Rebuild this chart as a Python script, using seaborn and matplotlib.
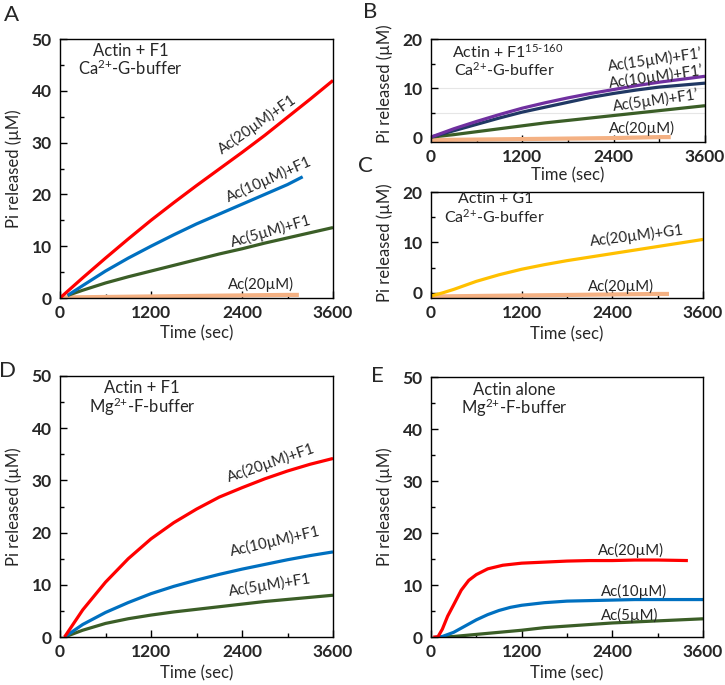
import matplotlib
matplotlib.use("Agg")
from matplotlib import pyplot as plt
from matplotlib.ticker import MultipleLocator
import seaborn as sns

# ---- panel A : Actin + F1, Ca-G-buffer ----
tA_red = [0, 300, 600, 900, 1200, 1500, 1800, 2100, 2400, 2700, 3000, 3300, 3600]
A_red = [0, 3.9, 7.7, 11.4, 15.0, 18.4, 21.7, 24.9, 28.1, 31.4, 34.9, 38.4, 42.0]
tA_blue = [100, 300, 600, 900, 1200, 1500, 1800, 2100, 2400, 2700, 3000, 3200]
A_blue = [0.5, 2.4, 5.2, 7.7, 10.0, 12.2, 14.3, 16.2, 18.1, 20.0, 21.9, 23.4]
tA_green = [100, 300, 600, 900, 1200, 1500, 1800, 2100, 2400, 2700, 3000, 3300, 3600]
A_green = [0.5, 1.5, 2.9, 4.1, 5.2, 6.3, 7.4, 8.5, 9.5, 10.6, 11.6, 12.6, 13.6]
tA_orange = [0, 600, 1200, 1800, 2400, 3000, 3150]
A_orange = [0.1, 0.2, 0.3, 0.4, 0.5, 0.6, 0.6]

# ---- panel B : Actin + F1(15-160) ----
tB = [0, 300, 600, 900, 1200, 1500, 1800, 2100, 2400, 2700, 3000, 3300, 3600]
B_purple = [0, 1.7, 3.2, 4.6, 5.9, 7.0, 8.0, 8.9, 9.7, 10.5, 11.2, 11.8, 12.4]
B_navy = [0, 1.3, 2.6, 3.9, 5.1, 6.1, 7.1, 8.1, 8.9, 9.6, 10.2, 10.6, 11.0]
B_green = [0, 0.5, 1.1, 1.7, 2.3, 2.9, 3.4, 3.9, 4.4, 4.9, 5.4, 5.9, 6.4]
tB_orange = [0, 600, 1200, 1800, 2400, 3000, 3150]
B_orange = [-0.6, -0.5, -0.4, -0.3, -0.2, 0.0, 0.0]

# ---- panel C : Actin + G1 ----
tC_gold = [0, 150, 300, 600, 900, 1200, 1500, 1800, 2100, 2400, 2700, 3000, 3300, 3600]
C_gold = [-0.6, 0.0, 0.7, 2.3, 3.6, 4.7, 5.6, 6.4, 7.1, 7.8, 8.5, 9.2, 9.9, 10.6]
tC_orange = [0, 600, 1200, 1800, 2400, 3000, 3150]
C_orange = [-0.7, -0.6, -0.5, -0.4, -0.3, -0.2, -0.2]

# ---- panel D : Actin + F1, Mg-F-buffer ----
tD = [60, 300, 600, 900, 1200, 1500, 1800, 2100, 2400, 2700, 3000, 3300, 3600]
D_red = [0, 5.2, 10.5, 15.0, 18.8, 21.9, 24.5, 26.8, 28.6, 30.3, 31.8, 33.1, 34.2]
D_blue = [0, 2.4, 4.7, 6.6, 8.3, 9.7, 10.9, 12.0, 13.0, 13.9, 14.8, 15.6, 16.3]
D_green = [0, 1.3, 2.6, 3.5, 4.2, 4.8, 5.3, 5.8, 6.3, 6.8, 7.2, 7.6, 8.0]

# ---- panel E : Actin alone ----
tE_red = [30, 90, 150, 220, 300, 400, 500, 600, 750, 950, 1200, 1500, 1800, 2100, 2400, 2700, 3000, 3400]
E_red = [0, 0, 1.5, 4.0, 6.2, 9.0, 10.9, 12.0, 13.1, 13.8, 14.2, 14.4, 14.6, 14.7, 14.7, 14.8, 14.8, 14.7]
tE_blue = [60, 150, 300, 450, 600, 750, 900, 1050, 1200, 1500, 1800, 2100, 2400, 2700, 3000, 3300, 3600]
E_blue = [0, 0.1, 0.9, 2.1, 3.3, 4.3, 5.1, 5.7, 6.1, 6.6, 6.9, 7.0, 7.1, 7.2, 7.2, 7.2, 7.2]
tE_green = [150, 300, 600, 900, 1200, 1500, 1800, 2100, 2400, 2700, 3000, 3300, 3600]
E_green = [0, 0.1, 0.5, 0.9, 1.3, 1.8, 2.1, 2.4, 2.7, 2.9, 3.1, 3.3, 3.5]

xticks = [0, 1200, 2400, 3600]

RED = "#FF0000"
BLUE = "#0070C0"
GREEN = "#3B5E27"
ORANGE = "#F4B183"
PURPLE = "#7030A0"
NAVY = "#203864"
GOLD = "#FFC000"

sns.set_style("ticks")
plt.rcParams["font.family"] = ["Lato", "DejaVu Sans"]
plt.rcParams["mathtext.fontset"] = "custom"
plt.rcParams["mathtext.rm"] = "Lato"
plt.rcParams["mathtext.it"] = "Lato:italic"
plt.rcParams["mathtext.bf"] = "Lato:bold"

fig = plt.figure(figsize=(7.25, 6.85), dpi=100)

def px_axes(x0, y0, x1, y1):
    W, H = 725, 685
    return fig.add_axes([x0 / W, 1 - y1 / H, (x1 - x0) / W, (y1 - y0) / H])

axA = px_axes(60, 39, 333, 298)
axB = px_axes(431, 39, 705, 142)
axC = px_axes(431, 192, 703, 298)
axD = px_axes(60, 376, 333, 637)
axE = px_axes(431, 377, 703, 637)


def line(ax, t, v, color, lw=2.3):
    sns.lineplot(x=t, y=v, ax=ax, color=color, lw=lw, sort=False,
                 estimator=None, solid_capstyle="butt")


def style(ax, ymax, ymin, ymajor, xlab_y):
    ax.set_xlim(0, 3600)
    ax.set_ylim(ymin, ymax)
    ax.set_xticks(xticks)
    ax.xaxis.set_minor_locator(MultipleLocator(600))
    ax.yaxis.set_major_locator(MultipleLocator(ymajor))
    ax.yaxis.set_minor_locator(MultipleLocator(ymajor / 2))
    ax.tick_params(which="both", direction="in", width=1, color="black",
                   top=False, right=False)
    ax.tick_params(which="major", length=5)
    ax.tick_params(which="minor", length=3)
    ax.tick_params(axis="x", pad=5)
    ax.tick_params(axis="y", pad=6)
    for lab in ax.get_xticklabels() + ax.get_yticklabels():
        lab.set_fontweight("bold")
        lab.set_fontsize(12.5)
    for s in ax.spines.values():
        s.set_visible(True)
        s.set_linewidth(1)
        s.set_color("black")
    ax.set_xlabel("Time (sec)", fontsize=12)
    ax.set_ylabel("Pi released (µM)", fontsize=12)
    ax.yaxis.set_label_coords(-0.139, 0.5)
    ax.xaxis.set_label_coords(0.5, xlab_y)


def lab(ax, t, v, s, rot=0, size=10.8):
    ax.text(t, v, s, ha="center", va="center", rotation=rot,
            rotation_mode="anchor", fontsize=size)


CA = r"Ca$^{\text{2+}}$-G-buffer"
MG = r"Mg$^{\text{2+}}$-F-buffer"

# A
line(axA, tA_orange, A_orange, ORANGE, lw=3)
line(axA, tA_green, A_green, GREEN)
line(axA, tA_blue, A_blue, BLUE)
line(axA, tA_red, A_red, RED)
style(axA, 50, 0, 10, -0.104)
lab(axA, 936, 47.7, "Actin + F1", size=12)
lab(axA, 923, 44.4, CA, size=12)
lab(axA, 2600, 33.6, "Ac(20µM)+F1", 35)
lab(axA, 2760, 22.9, "Ac(10µM)+F1", 24)
lab(axA, 2788, 12.9, "Ac(5µM)+F1", 16)
lab(axA, 2656, 2.6, "Ac(20µM)")

# B
for yv in [5, 10]:
    axB.axhline(yv, color="#e6e6e6", lw=0.8, zorder=0)
line(axB, tB_orange, B_orange, ORANGE, lw=3)
line(axB, tB, B_green, GREEN)
line(axB, tB, B_navy, NAVY)
line(axB, tB, B_purple, PURPLE)
style(axB, 20, -1, 10, -0.25)
axB.yaxis.set_label_coords(-0.139, 0.57)
lab(axB, 1000, 17.4, r"Actin + F1$^{\text{15-160}}$", size=11.5)
lab(axB, 960, 13.8, CA, size=11.5)
lab(axB, 2943, 15.8, "Ac(15µM)+F1’", 8)
lab(axB, 2956, 12.3, "Ac(10µM)+F1’", 8)
lab(axB, 2956, 7.4, "Ac(5µM)+F1’", 8)
lab(axB, 2768, 1.8, "Ac(20µM)")

# C
line(axC, tC_orange, C_orange, ORANGE, lw=3)
line(axC, tC_gold, C_gold, GOLD)
style(axC, 20, -1, 10, -0.27)
axC.yaxis.set_label_coords(-0.139, 0.52)
lab(axC, 860, 18.6, "Actin + G1", size=11.5)
lab(axC, 834, 15.0, CA, size=11.5)
lab(axC, 2719, 11.4, "Ac(20µM)+G1", 7)
lab(axC, 2520, 1.3, "Ac(20µM)")

# D
line(axD, tD, D_green, GREEN)
line(axD, tD, D_blue, BLUE)
line(axD, tD, D_red, RED)
style(axD, 50, 0, 10, -0.107)
lab(axD, 1081, 47.7, "Actin + F1", size=12)
lab(axD, 1081, 44.1, MG, size=12)
lab(axD, 2788, 33.4, "Ac(20µM)+F1", 19)
lab(axD, 2832, 18.4, "Ac(10µM)+F1", 13)
lab(axD, 2766, 9.9, "Ac(5µM)+F1", 9)

# E
line(axE, tE_green, E_green, GREEN)
line(axE, tE_blue, E_blue, BLUE)
line(axE, tE_red, E_red, RED)
style(axE, 50, 0, 10, -0.107)
lab(axE, 1099, 47.5, "Actin alone", size=12)
lab(axE, 1099, 44.1, MG, size=12)
lab(axE, 2653, 16.6, "Ac(20µM)")
lab(axE, 2683, 8.7, "Ac(10µM)")
lab(axE, 2630, 4.2, "Ac(5µM)")

# panel letters
for letter, x, y in [("A", 11, 15), ("B", 370, 12), ("C", 365, 166),
                     ("D", 8, 371), ("E", 377, 376)]:
    fig.text(x / 725, 1 - y / 685, letter, fontsize=16, ha="center", va="center")

plt.savefig("out.png", dpi=100)
